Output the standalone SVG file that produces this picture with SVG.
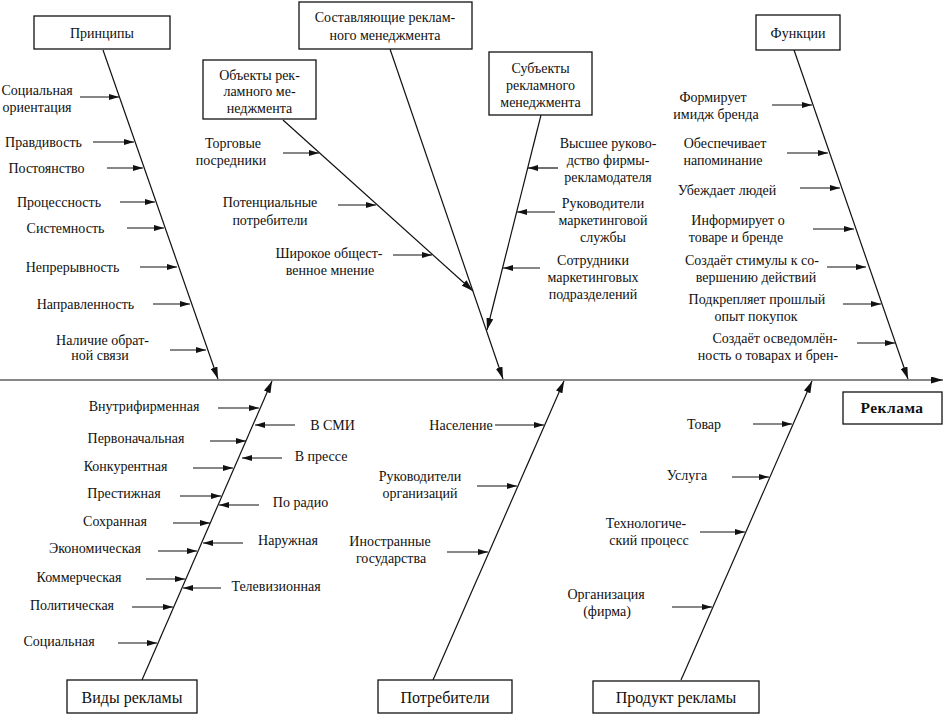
<svg xmlns="http://www.w3.org/2000/svg" width="944" height="716" viewBox="0 0 944 716" font-family="'Liberation Serif', 'Times New Roman', Tinos, 'DejaVu Serif', serif">
<defs>
<style>
text{font-family:'Liberation Serif','Times New Roman',Tinos,'DejaVu Serif',serif;font-size:14px;fill:#111;text-anchor:middle}
.big{font-size:16px}
.bold{font-size:15.5px;font-weight:bold;letter-spacing:0.5px}
.box{fill:#fff;stroke:#111;stroke-width:1.3}
.ln{stroke:#111;stroke-width:1.2;fill:none}
.sa{marker-end:url(#ah)}
.ba{marker-end:url(#bh)}
</style>
<marker id="ah" viewBox="0 0 10 6" refX="10" refY="3" markerWidth="10" markerHeight="6" orient="auto" markerUnits="userSpaceOnUse"><path d="M0,0 L10,3 L0,6 z" fill="#111"/></marker>
<marker id="bh" viewBox="0 0 12 7" refX="12" refY="3.5" markerWidth="12" markerHeight="7" orient="auto" markerUnits="userSpaceOnUse"><path d="M0,0 L12,3.5 L0,7 z" fill="#111"/></marker>
</defs>
<rect width="944" height="716" fill="#fff"/>

<g id="connectors">
<line class="ln ba" x1="0" y1="380" x2="943" y2="380"/>
<line class="ln ba" x1="103" y1="50" x2="218" y2="379"/>
<line class="ln ba" x1="390" y1="49" x2="503" y2="379"/>
<line class="ln ba" x1="283" y1="120" x2="473" y2="291"/>
<line class="ln ba" x1="541" y1="115" x2="487" y2="330"/>
<line class="ln ba" x1="794" y1="50" x2="908" y2="379"/>
<line class="ln ba" x1="142" y1="680" x2="272" y2="381"/>
<line class="ln ba" x1="433" y1="680" x2="564" y2="381"/>
<line class="ln ba" x1="681" y1="680" x2="812" y2="381"/>
<line class="ln sa" x1="80" y1="97" x2="119" y2="97"/>
<line class="ln sa" x1="93" y1="142" x2="134" y2="142"/>
<line class="ln sa" x1="107" y1="168" x2="143" y2="168"/>
<line class="ln sa" x1="120" y1="202" x2="155" y2="202"/>
<line class="ln sa" x1="127" y1="228" x2="164" y2="228"/>
<line class="ln sa" x1="140" y1="267" x2="177" y2="267"/>
<line class="ln sa" x1="153" y1="304" x2="190" y2="304"/>
<line class="ln sa" x1="170" y1="350" x2="206" y2="350"/>
<line class="ln sa" x1="283" y1="153" x2="319" y2="153"/>
<line class="ln sa" x1="338" y1="205" x2="376" y2="205"/>
<line class="ln sa" x1="393" y1="255" x2="432" y2="255"/>
<line class="ln sa" x1="558" y1="168" x2="528" y2="168"/>
<line class="ln sa" x1="555" y1="212" x2="517" y2="212"/>
<line class="ln sa" x1="540" y1="268" x2="503" y2="268"/>
<line class="ln sa" x1="772" y1="105" x2="812" y2="105"/>
<line class="ln sa" x1="787" y1="153" x2="828" y2="153"/>
<line class="ln sa" x1="800" y1="188" x2="840" y2="188"/>
<line class="ln sa" x1="813" y1="229" x2="854" y2="229"/>
<line class="ln sa" x1="827" y1="267" x2="866" y2="267"/>
<line class="ln sa" x1="843" y1="304" x2="881" y2="304"/>
<line class="ln sa" x1="857" y1="343" x2="895" y2="343"/>
<line class="ln sa" x1="218" y1="408" x2="259" y2="408"/>
<line class="ln sa" x1="210" y1="441" x2="246" y2="441"/>
<line class="ln sa" x1="193" y1="468" x2="233" y2="468"/>
<line class="ln sa" x1="180" y1="496" x2="221" y2="496"/>
<line class="ln sa" x1="173" y1="523" x2="210" y2="523"/>
<line class="ln sa" x1="158" y1="551" x2="197" y2="551"/>
<line class="ln sa" x1="146" y1="579" x2="185" y2="579"/>
<line class="ln sa" x1="132" y1="607" x2="173" y2="607"/>
<line class="ln sa" x1="118" y1="643" x2="157" y2="643"/>
<line class="ln sa" x1="295" y1="425" x2="255" y2="425"/>
<line class="ln sa" x1="282" y1="458" x2="242" y2="458"/>
<line class="ln sa" x1="259" y1="505" x2="219" y2="505"/>
<line class="ln sa" x1="243" y1="543" x2="203" y2="543"/>
<line class="ln sa" x1="221" y1="588" x2="183" y2="588"/>
<line class="ln sa" x1="495" y1="425" x2="544" y2="425"/>
<line class="ln sa" x1="477" y1="486" x2="517" y2="486"/>
<line class="ln sa" x1="447" y1="552" x2="488" y2="552"/>
<line class="ln sa" x1="753" y1="424" x2="792" y2="424"/>
<line class="ln sa" x1="732" y1="477" x2="769" y2="477"/>
<line class="ln sa" x1="700" y1="532" x2="745" y2="532"/>
<line class="ln sa" x1="672" y1="607" x2="712" y2="607"/>
</g>

<g id="principles">
<rect class="box" x="34" y="16" width="136" height="33"/>
<text x="102" y="37.5">Принципы</text>
<text x="37" y="95">Социальная</text>
<text x="37" y="112">ориентация</text>
<text x="43.5" y="146.5">Правдивость</text>
<text x="46.5" y="172.5">Постоянство</text>
<text x="59" y="206.5">Процессность</text>
<text x="65.5" y="232.5">Системность</text>
<text x="72.5" y="271.5">Непрерывность</text>
<text x="85.5" y="308.5">Направленность</text>
<text x="102.5" y="344.5">Наличие обрат-</text>
<text x="100" y="360">ной связи</text>
</g>

<g id="components">
<rect class="box" x="299" y="2" width="173" height="47"/>
<text x="385" y="21.5">Составляющие реклам-</text>
<text x="385" y="39.5">ного менеджмента</text>
</g>

<g id="objects">
<rect class="box" x="203" y="60" width="113" height="59"/>
<text x="259.5" y="79.5">Объекты рек-</text>
<text x="259.5" y="96">ламного ме-</text>
<text x="259.5" y="112.5">неджмента</text>
<text x="233" y="147.5">Торговые</text>
<text x="231" y="164.5">посредники</text>
<text x="270" y="206.5">Потенциальные</text>
<text x="270" y="224.5">потребители</text>
<text x="329" y="257.5">Широкое общест-</text>
<text x="330" y="274.5">венное мнение</text>
</g>

<g id="subjects">
<rect class="box" x="489" y="52" width="103" height="63"/>
<text x="540.5" y="72.5">Субъекты</text>
<text x="540.5" y="89.5">рекламного</text>
<text x="540.5" y="106.5">менеджмента</text>
<text x="608" y="147.5">Высшее руково-</text>
<text x="608" y="164.5">дство фирмы-</text>
<text x="608" y="181.5">рекламодателя</text>
<text x="603" y="207.5">Руководители</text>
<text x="603" y="224.5">маркетинговой</text>
<text x="603" y="241.5">службы</text>
<text x="593" y="264.5">Сотрудники</text>
<text x="593" y="281.5">маркетинговых</text>
<text x="593" y="298.5">подразделений</text>
</g>

<g id="functions">
<rect class="box" x="756" y="15" width="84" height="35"/>
<text x="798" y="37.5">Функции</text>
<text x="713" y="101.5">Формирует</text>
<text x="716" y="118.5">имидж бренда</text>
<text x="725" y="147.5">Обеспечивает</text>
<text x="723" y="164.5">напоминание</text>
<text x="727" y="194.5">Убеждает людей</text>
<text x="738" y="224.5">Информирует о</text>
<text x="736" y="241.5">товаре и бренде</text>
<text x="752" y="264.5">Создаёт стимулы  к со-</text>
<text x="756" y="281.5">вершению  действий</text>
<text x="757" y="303.5">Подкрепляет прошлый</text>
<text x="756" y="320.5">опыт покупок</text>
<text x="775" y="342.5">Создаёт осведомлён-</text>
<text x="768" y="359.5">ность о товарах  и брен-</text>
</g>

<g id="advertising">
<rect class="box" x="843" y="392" width="99" height="32"/>
<text class="bold" x="892" y="413">Реклама</text>
</g>

<g id="types">
<rect class="box" x="67" y="680" width="130" height="33"/>
<text class="big" x="132" y="702.5">Виды рекламы</text>
<text x="144" y="410.5">Внутрифирменная</text>
<text x="136" y="442.5">Первоначальная</text>
<text x="125.5" y="470.5">Конкурентная</text>
<text x="124" y="497.5">Престижная</text>
<text x="115" y="525.5">Сохранная</text>
<text x="95" y="552.5">Экономическая</text>
<text x="79" y="581.5">Коммерческая</text>
<text x="72" y="609.5">Политическая</text>
<text x="59" y="645.5">Социальная</text>
<text x="332.5" y="429.5">В СМИ</text>
<text x="321" y="460.5">В прессе</text>
<text x="300.5" y="506.5">По радио</text>
<text x="288" y="544.5">Наружная</text>
<text x="276" y="590.5">Телевизионная</text>
</g>

<g id="consumers">
<rect class="box" x="378" y="680" width="134" height="33"/>
<text class="big" x="445" y="702.5">Потребители</text>
<text x="461" y="429.5">Население</text>
<text x="420" y="480.5">Руководители</text>
<text x="420" y="497.5">организаций</text>
<text x="390" y="545.5">Иностранные</text>
<text x="391" y="562.5">государства</text>
</g>

<g id="product">
<rect class="box" x="593" y="681" width="166" height="32"/>
<text class="big" x="676" y="702.5">Продукт рекламы</text>
<text x="704" y="428.5">Товар</text>
<text x="687" y="479.5">Услуга</text>
<text x="646" y="527.5">Технологиче-</text>
<text x="649" y="544.5">ский процесс</text>
<text x="606" y="598.5">Организация</text>
<text x="607" y="615.5">(фирма)</text>
</g>
</svg>
